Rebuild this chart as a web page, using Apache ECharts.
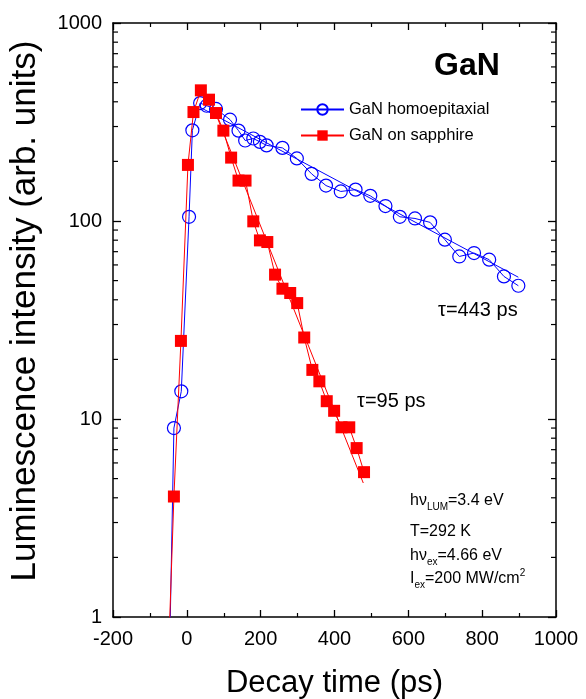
<!DOCTYPE html>
<html><head><meta charset="utf-8">
<script src="https://cdn.jsdelivr.net/npm/echarts@6/dist/echarts.min.js"></script>
<style>html,body{margin:0;padding:0;background:#fff}#c{width:586px;height:699px}</style>
</head><body><div id="c"></div>
<script>
const FONT = "'Liberation Sans', Arial, Helvetica, sans-serif";

// GaN homoepitaxial (open circles)
const homoTimes  = [-47, -35, -15, 6, 15, 36, 54, 79, 117, 140, 158, 180, 198, 216, 259, 298, 338, 377, 417, 457, 497, 538, 577, 618, 659, 699, 738, 778, 819, 859, 898];
const homoValues = [0.6, 9.0, 13.8, 105, 287, 394, 382, 368, 325, 286, 255, 261, 251, 241, 234, 207, 173, 151, 141, 144, 134, 119, 105, 103, 98.4, 80.5, 66.2, 68.9, 63.8, 52.5, 47.1];

// GaN on sapphire (filled squares)
const sapphTimes  = [-48, -35, -16, 3, 18, 38, 60, 79, 99, 120, 140, 159, 180, 198, 218, 239, 259, 280, 299, 318, 340, 359, 379, 399, 419, 440, 460, 480];
const sapphValues = [0.8, 4.06, 24.8, 192, 355, 457, 410, 351, 286, 209, 160, 160, 99.6, 79.8, 78.3, 53.6, 45.5, 43.3, 38.5, 25.8, 17.7, 15.5, 12.3, 11.0, 9.08, 9.08, 7.13, 5.39];

// exponential fits (straight lines on log axis)
const homoFitTimes  = [36, 898];
const homoFitValues = [375, 52];
const sapphFitTimes  = [76, 478];
const sapphFitValues = [357, 4.75];

const xMin = -200, xMax = 1000, xStep = 200;
const yMin = 1, yMax = 1000;
const yTickLabels = {1: '1', 10: '10', 100: '100', 1000: '1000'};

function pairs(ts, vs) {
  return ts.map((t, i) => vs[i] < yMin ? {value: [t, vs[i]], symbol: 'none'} : [t, vs[i]]);
}

const chart = echarts.init(document.getElementById('c'), null, {renderer: 'canvas'});

const axisLineStyle = {color: '#000', width: 1.5};
function xAx(pos, labels) {
  return {
    type: 'value', position: pos, min: xMin, max: xMax, interval: xStep,
    axisLine: {show: true, onZero: false, lineStyle: axisLineStyle},
    axisTick: {show: true, inside: true, length: 7, lineStyle: {color: '#000', width: 1.3}},
    minorTick: {show: true, splitNumber: 2, length: 4, lineStyle: {color: '#000', width: 1.2}},
    splitLine: {show: false},
    axisLabel: {show: labels, fontSize: 20, color: '#000', margin: 12, fontFamily: FONT,
      formatter: v => String(Math.round(v))},
    name: labels ? 'Decay time (ps)' : '', nameLocation: 'middle', nameGap: 51,
    nameTextStyle: {fontSize: 31, color: '#000', fontFamily: FONT}
  };
}
function yAx(pos, labels) {
  return {
    type: 'log', logBase: 10, position: pos, min: yMin, max: yMax, splitNumber: 3,
    axisLine: {show: true, onZero: false, lineStyle: axisLineStyle},
    axisTick: {show: true, inside: true, length: 8, lineStyle: {color: '#000', width: 1.3}},
    splitLine: {show: false},
    axisLabel: {show: labels, fontSize: 20, color: '#000', margin: 11, fontFamily: FONT,
      formatter: v => yTickLabels[Math.round(v)] || ''},
    name: labels ? 'Luminescence intensity (arb. units)' : '', nameLocation: 'middle', nameGap: 70,
    nameTextStyle: {fontSize: 35, color: '#000', fontFamily: FONT, padding: [0, 0, 0, 18]}
  };
}

chart.setOption({
  animation: false,
  backgroundColor: '#fff',
  grid: {left: 113, right: 30, top: 23, bottom: 82, containLabel: false, outerBoundsMode: 'none'},
  xAxis: [xAx('bottom', true), xAx('top', false)],
  yAxis: [yAx('left', true), yAx('right', false)],
  legend: {
    orient: 'vertical', left: 295, top: 96, itemWidth: 43, itemHeight: 13, itemGap: 9,
    data: ['GaN homoepitaxial', 'GaN on sapphire'],
    textStyle: {fontSize: 16.5, color: '#000', fontFamily: FONT}
  },
  series: [
    {name: 'GaN homoepitaxial', type: 'line', data: pairs(homoTimes, homoValues),
     symbol: 'circle', symbolSize: 13,
     itemStyle: {color: 'rgba(255,255,255,0)', borderColor: '#0000ff', borderWidth: 1.2},
     lineStyle: {color: '#0000ff', width: 1}, z: 3},
    {name: 'GaN on sapphire', type: 'line', data: pairs(sapphTimes, sapphValues),
     symbol: 'rect', symbolSize: 12,
     itemStyle: {color: '#ff0000'},
     lineStyle: {color: '#ff0000', width: 1}, z: 4},
    {name: 'homoFit', type: 'line', data: homoFitTimes.map((t, i) => [t, homoFitValues[i]]),
     symbol: 'none', lineStyle: {color: '#0000ff', width: 1}, z: 2},
    {name: 'sapphFit', type: 'line', data: sapphFitTimes.map((t, i) => [t, sapphFitValues[i]]),
     symbol: 'none', lineStyle: {color: '#ff0000', width: 1}, z: 2}
  ]
});

// minor log ticks (2..9 in each decade) on left and right axes, placed via the axis scale
const g = [];
const xl = chart.convertToPixel({xAxisIndex: 0}, xMin);
const xr = chart.convertToPixel({xAxisIndex: 0}, xMax);
for (let d = yMin; d < yMax; d *= 10) {
  for (let k = 2; k <= 9; k++) {
    const py = chart.convertToPixel({yAxisIndex: 0}, k * d);
    g.push({type: 'line', silent: true, shape: {x1: xl, y1: py, x2: xl + 5, y2: py}, style: {stroke: '#000', lineWidth: 1.2}});
    g.push({type: 'line', silent: true, shape: {x1: xr, y1: py, x2: xr - 5, y2: py}, style: {stroke: '#000', lineWidth: 1.2}});
  }
}
function txt(x, y, text, size, extra) {
  return Object.assign({type: 'text', x: x, y: y, silent: true,
    style: Object.assign({text: text, fontSize: size, fontFamily: FONT, fill: '#000', verticalAlign: 'middle', align: 'left'}, extra || {})});
}
const subRich = {
  sub: {fontSize: 10, lineHeight: 10, verticalAlign: 'bottom', fontFamily: FONT, fill: '#000'},
  sup: {fontSize: 10, lineHeight: 10, verticalAlign: 'top', fontFamily: FONT, fill: '#000'}
};
g.push(txt(434, 66, 'GaN', 32, {fontWeight: 'bold'}));
g.push(txt(438, 310, 'τ=443 ps', 20));
g.push(txt(357, 401, 'τ=95 ps', 20));
g.push(txt(410, 501, 'hν{sub|LUM}=3.4 eV', 16, {lineHeight: 22, rich: subRich}));
g.push(txt(410, 532, 'T=292 K', 16));
g.push(txt(410, 556, 'hν{sub|ex}=4.66 eV', 16, {lineHeight: 22, rich: subRich}));
g.push(txt(410, 579, 'I{sub|ex}=200 MW/cm{sup|2}', 16, {lineHeight: 22, rich: subRich}));
chart.setOption({graphic: g});
</script>
</body></html>
